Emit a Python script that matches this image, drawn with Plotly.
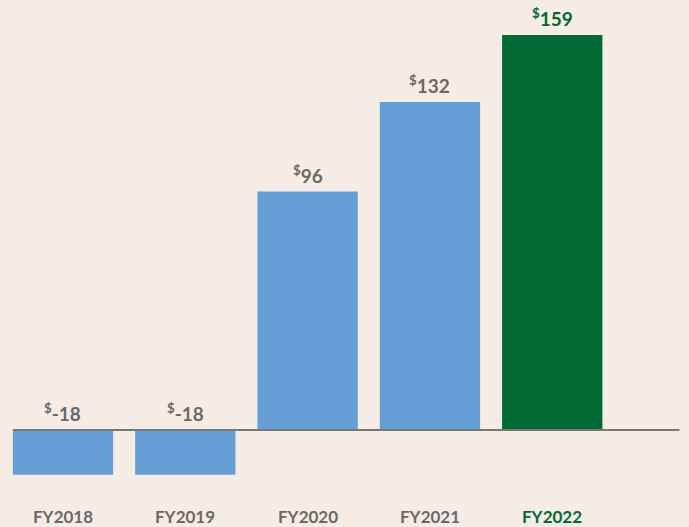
import plotly.graph_objects as go

categories = ["FY2018", "FY2019", "FY2020", "FY2021", "FY2022"]
values = [-18, -18, 96, 132, 159]
bar_colors = ["#659fd6", "#659fd6", "#659fd6", "#659fd6", "#006934"]
label_colors = ["#6b6967", "#6b6967", "#6b6967", "#6b6967", "#006934"]

BG = "#f5ede5"
FONT = "Lato, 'Open Sans', sans-serif"

xpos = list(range(len(categories)))

fig = go.Figure()
fig.add_trace(go.Bar(
    x=xpos, y=values, marker=dict(color=bar_colors, line=dict(width=0)),
    width=0.82, hoverinfo="skip",
))

# baseline
fig.add_shape(type="line", xref="x", yref="y", x0=-0.41, x1=5.04, y0=0, y1=0,
              line=dict(color="#7a7876", width=2), layer="above")

annotations = []
for i, (c, v, lc) in enumerate(zip(categories, values, label_colors)):
    annotations.append(dict(
        x=i, y=max(v, 0), xref="x", yref="y", yanchor="bottom", yshift=3,
        text=f"<b><sup>$</sup>{v}</b>", showarrow=False,
        font=dict(family=FONT, size=19, color=lc),
    ))
    annotations.append(dict(
        x=i, y=0, xref="x", yref="paper", yanchor="bottom", yshift=-2,
        text=f"<b>{c}</b>", showarrow=False,
        font=dict(family=FONT, size=17, color=lc),
    ))

fig.update_layout(
    width=689, height=527,
    margin=dict(l=0, r=0, t=0, b=0),
    paper_bgcolor=BG, plot_bgcolor=BG,
    showlegend=False,
    xaxis=dict(range=[-0.515, 5.118], visible=False, fixedrange=True),
    yaxis=dict(range=[-39.05, 173.1], visible=False, fixedrange=True),
    annotations=annotations,
)

fig.write_html("out.html", config={"displayModeBar": False},
               post_script="document.body.style.margin='0';document.body.style.background='#f5ede5';")
